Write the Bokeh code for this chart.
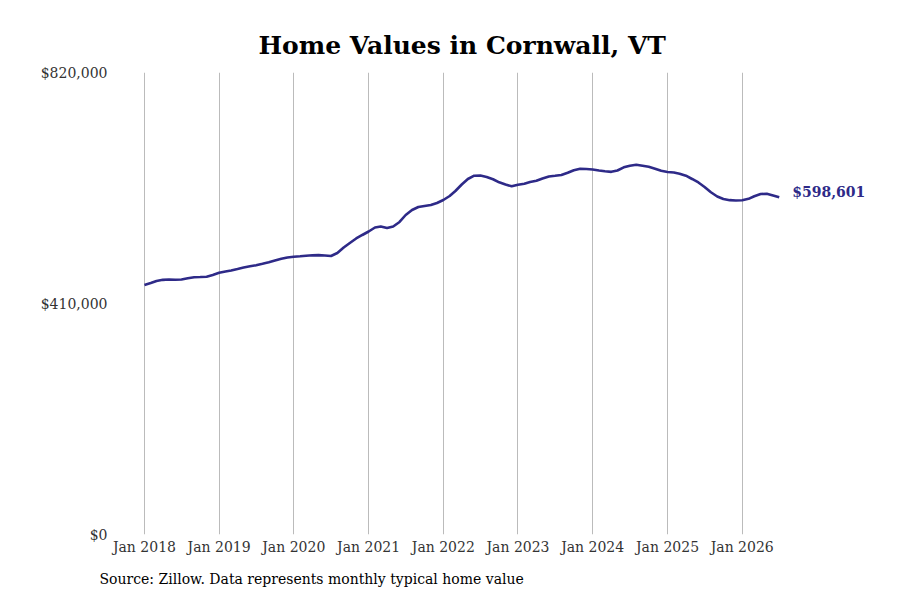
import pandas as pd
from bokeh.plotting import figure
from bokeh.models import Range1d, FixedTicker, DatetimeTickFormatter, Label, Title
from bokeh.embed import file_html
from bokeh.resources import INLINE

# ---- data ----
start_month = "2018-01-01"
values = [
    443000, 446400, 450000, 452000, 452600, 452200, 452600, 454700, 456500, 457000, 457600, 460600,
    464500, 466800, 468600, 471200, 473900, 476000, 478000, 480500, 483100, 486300, 489300, 491600,
    492900, 493800, 494700, 495500, 495900, 495200, 494300, 499600, 509400, 517400, 525400, 531600,
    537800, 544900, 546700, 544000, 546700, 554700, 567100, 576000, 581300, 583100, 584800, 588400,
    593700, 600800, 609700, 621200, 631000, 636800, 637200, 634500, 630500, 625100, 621200, 618000,
    620700, 622500, 625700, 627800, 631900, 635400, 636700, 638100, 642000, 646600, 649300, 648700,
    647800, 646100, 644600, 643700, 646100, 651700, 654600, 656200, 654400, 652600, 649300, 645500,
    643400, 642500, 640400, 636800, 631000, 624800, 616800, 607400, 599900, 595500, 593400, 592800,
    593200, 595800, 600300, 604300, 604900, 601700, 598601,
]
dates = pd.date_range(start_month, periods=len(values), freq="MS")
tick_years = list(range(2018, 2027))
y_ticks = [0, 410000, 820000]
y_tick_labels = ["$0", "$410,000", "$820,000"]
title_text = "Home Values in Cornwall, VT"
source_text = "Source: Zillow. Data represents monthly typical home value"
end_label = "$598,601"

LINE = "#2e2a88"
FONT = "DejaVu Serif"

tick_ms = [pd.Timestamp(f"{y}-01-01").value / 1e6 for y in tick_years]

p = figure(width=884, height=600, output_backend="svg", toolbar_location=None,
           x_axis_type="datetime",
           x_range=Range1d(pd.Timestamp("2017-12-03"), pd.Timestamp("2027-11-08")),
           y_range=Range1d(0, 820000),
           min_border_left=138, min_border_right=4, min_border_top=72, min_border_bottom=66)
p.outline_line_color = None
p.background_fill_color = "white"
p.border_fill_color = "white"

p.title.text = title_text
p.title.align = "left"
p.title.offset = 120
p.title.standoff = 25
p.title.text_font = FONT
p.title.text_font_style = "bold"
p.title.text_font_size = "25px"
p.title.text_color = "black"

p.add_layout(Title(text=source_text, align="left", offset=-39, text_font=FONT,
                   text_font_style="normal", text_font_size="14px", text_color="black",
                   standoff=23), "below")

p.line(dates, values, line_color=LINE, line_width=2.6)

# axes
p.xaxis.ticker = FixedTicker(ticks=tick_ms)
p.xaxis.formatter = DatetimeTickFormatter(days="%b %Y", months="%b %Y", years="%b %Y")
p.xaxis.axis_line_color = None
p.xaxis.major_tick_line_color = None
p.xaxis.minor_tick_line_color = None
p.xaxis.major_tick_out = 0
p.xaxis.major_tick_in = 0
p.xaxis.major_label_standoff = 4
p.xaxis.major_label_text_font = FONT
p.xaxis.major_label_text_font_size = "14px"
p.xaxis.major_label_text_color = "#333333"

p.yaxis.ticker = FixedTicker(ticks=y_ticks)
p.yaxis.major_label_overrides = {t: l for t, l in zip(y_ticks, y_tick_labels)}
p.yaxis.axis_line_color = None
p.yaxis.major_tick_line_color = None
p.yaxis.minor_tick_line_color = None
p.yaxis.major_tick_out = 0
p.yaxis.major_tick_in = 0
p.yaxis.major_label_standoff = 31
p.yaxis.major_label_text_font = FONT
p.yaxis.major_label_text_font_size = "14px"
p.yaxis.major_label_text_color = "#333333"

p.xgrid.grid_line_color = "#bbbbbb"
p.xgrid.grid_line_width = 1
p.ygrid.grid_line_color = None

# end label
p.add_layout(Label(x=dates[-1], y=values[-1], text=end_label, x_offset=13, y_offset=5,
                   text_baseline="middle", text_align="left", text_font=FONT,
                   text_font_style="bold", text_font_size="14px", text_color=LINE))

open("out.html", "w").write(file_html(p, INLINE))
